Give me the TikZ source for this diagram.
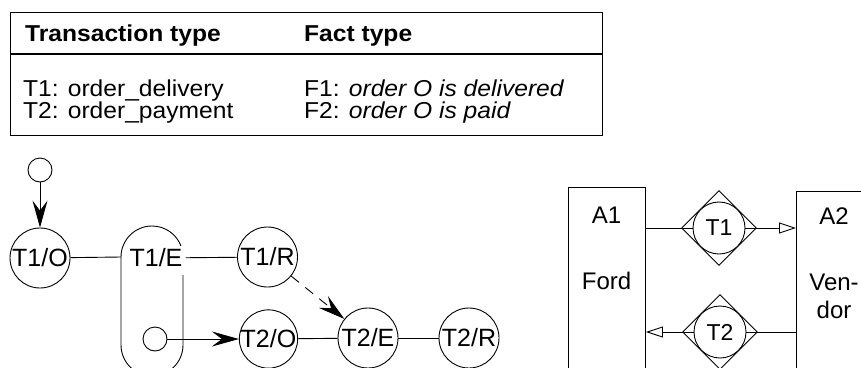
\documentclass[tikz,border=0pt]{standalone}
\usepackage{fontspec}
\setmainfont{Liberation Sans}
\newfontfamily\tabfont[FakeStretch=1.07]{Liberation Sans}
\usetikzlibrary{arrows.meta,shapes.geometric}
\begin{document}
\begin{tikzpicture}[x=1pt,y=-1pt,
  every node/.style={inner sep=0pt},
  ln/.style={line width=0.9pt},
  tab/.style={anchor=base west,font=\tabfont\fontsize{23}{27}\selectfont},
  tabh/.style={anchor=base west,font=\tabfont\fontsize{23}{27}\selectfont\bfseries},
  act/.style={circle,draw,ln,minimum size=60pt,fill=white,font=\fontsize{25}{29}\selectfont},
  smallc/.style={circle,draw,ln,minimum size=24pt},
  lbl/.style={font=\fontsize{25}{29}\selectfont},
  rlbl/.style={font=\fontsize{24}{28}\selectfont},
  actor/.style={draw,ln,anchor=north west,minimum width=77pt,minimum height=240pt},
  dia/.style={diamond,draw,ln,minimum size=75pt,aspect=1},
  tcirc/.style={circle,draw,ln,fill=white,minimum size=52pt,font=\fontsize{23}{27}\selectfont},
  sarrow/.style={ln,-{Stealth[length=27pt,width=15pt,inset=10pt]}},
  oarrow/.style={ln,-{Triangle[open,length=17pt,width=11pt]}}
]
\useasboundingbox (0,0) rectangle (861,367);

% table
\node[draw,line width=1.4pt,anchor=north west,minimum width=592pt,minimum height=123pt] (table) at (10,12) {};
\coordinate (sepL) at (10,54);
\coordinate (sepR) at (602,54);
\draw[line width=1.4pt] (sepL) -- (sepR);
\node[tabh] (h1) at (25,41) {Transaction type};
\node[tabh] (h2) at (304,41) {Fact type};
\node[tab] (r1a) at (23,96) {T1: order\_delivery};
\node[tab] (r1b) at (304,96) {F1: \textit{order O is delivered}};
\node[tab] (r2a) at (23,118) {T2: order\_payment};
\node[tab] (r2b) at (304,118) {F2: \textit{order O is paid}};

% left process diagram
\coordinate (stL) at (121,257);
\draw[ln] (183,275) -- (183,345) arc[start angle=0,end angle=180,radius=31] -- (121,257) arc[start angle=180,end angle=341,radius=31];
\node[smallc] (s1) at (40,170) {};
\node[act] (t1o) at (40,258) {T1/O};
\node[lbl,fill=white,inner sep=3pt] (t1e) at (156,258) {T1/E};
\node[act] (t1r) at (267.5,257) {T1/R};
\node[smallc] (s2) at (155,339) {};
\node[act,minimum size=58pt] (t2o) at (268.5,339) {T2/O};
\node[act] (t2e) at (368,338) {T2/E};
\node[act] (t2r) at (469,338) {T2/R};

\draw[sarrow] (s1) -- (t1o);
\draw[ln] (t1o) -- (stL);
\draw[ln] (t1e) -- (t1r);
\draw[sarrow] (s2) -- (t2o);
\draw[sarrow,dash pattern=on 10pt off 8pt] (t1r) -- (t2e);
\draw[ln] (t2o) -- (t2e);
\draw[ln] (t2e) -- (t2r);

% right actor diagram
\node[actor] (a1) at (568,187) {};
\node[actor,minimum width=100pt] (a2) at (796,191) {};
\node[rlbl] (a1n) at (606.5,215) {A1};
\node[rlbl] (a1f) at (606.5,281) {Ford};
\node[rlbl] (a2n) at (834,216) {A2};
\node[rlbl,align=center] (a2f) at (834,296) {Ven-\\dor};
\node[dia] (d1) at (719,228) {};
\node[dia] (d2) at (720,332) {};
\draw[oarrow] (a1.east |- d1) -- (a2.west |- d1);
\draw[oarrow] (a2.west |- d2) -- (a1.east |- d2);
\node[tcirc] (c1) at (d1) {T1};
\node[tcirc] (c2) at (d2) {T2};
\end{tikzpicture}
\end{document}
